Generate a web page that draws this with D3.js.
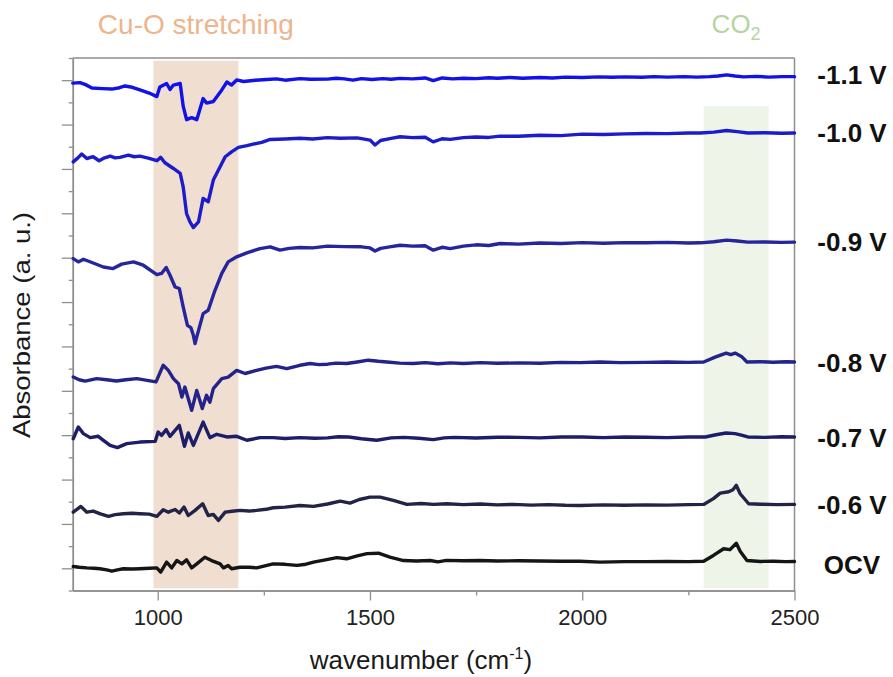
<!DOCTYPE html>
<html>
<head>
<meta charset="utf-8">
<script src="https://cdn.jsdelivr.net/npm/d3@7/dist/d3.min.js"></script>
<style>
  html, body { margin: 0; padding: 0; background: #ffffff; }
  svg { display: block; font-family: "Liberation Sans", Arial, sans-serif; }
</style>
</head>
<body>
<svg id="chart" width="893" height="677"></svg>
<script>
// ---------------- data ----------------
const seriesNames = ["-1.1 V", "-1.0 V", "-0.9 V", "-0.8 V", "-0.7 V", "-0.6 V", "OCV"];
const seriesColors = ["#1212e8", "#1c1cc8", "#26269c", "#23238a", "#1e1e68", "#232348", "#151515"];

const xMajorTicks = [1000, 1500, 2000, 2500];
const xMinorTicks = [1250, 1750, 2250];
const yMajorTicks = [1, 3, 5, 7, 9, 11, 13, 15, 17, 19, 21, 23];
const yMinorTicks = [0, 2, 4, 6, 8, 10, 12, 14, 16, 18, 20, 22, 24];

const bandCuO = [990, 1190];
const bandCO2 = [2286, 2439];
const bandCuOTop = 23.88;
const bandCO2Top = 21.83;
const bandBottom = 0.1;

// absorbance (stacked, a.u.) vs wavenumber (cm-1)
const m11 = [[800,22.87],[817,22.89],[830,22.80],[845,22.65],[870,22.62],[892,22.60],[910,22.66],[923,22.74],[940,22.68],[958,22.56],[980,22.42],[998,22.26],[1005,22.69],[1021,22.85],[1029,22.58],[1037,22.78],[1053,22.85],[1060,21.83],[1068,21.22],[1080,21.31],[1092,21.22],[1107,22.17],[1115,21.97],[1131,22.04],[1151,22.56],[1163,22.92],[1174,22.78],[1186,23.01],[1202,22.94],[1230,23.00],[1257,23.03],[1280,23.06],[1300,23.00],[1335,23.07],[1360,23.04],[1400,23.05],[1420,23.09],[1440,23.06],[1460,23.00],[1480,23.07],[1505,23.03],[1530,23.07],[1550,23.04],[1571,23.08],[1600,23.06],[1630,23.10],[1649,22.98],[1670,23.10],[1695,23.06],[1720,23.09],[1750,23.07],[1780,23.11],[1800,23.09],[1830,23.12],[1860,23.09],[1900,23.12],[1930,23.10],[1960,23.14],[2000,23.12],[2040,23.15],[2070,23.13],[2100,23.15],[2140,23.13],[2170,23.16],[2200,23.14],[2240,23.16],[2270,23.14],[2300,23.16],[2320,23.19],[2340,23.24],[2360,23.19],[2380,23.15],[2410,23.17],[2440,23.14],[2470,23.16],[2500,23.16]];
const m10 = [[801,19.32],[812,19.50],[821,19.67],[833,19.47],[848,19.55],[862,19.37],[875,19.50],[888,19.58],[900,19.50],[911,19.52],[931,19.62],[945,19.55],[958,19.58],[980,19.48],[998,19.37],[1007,19.52],[1017,19.28],[1037,19.02],[1053,18.80],[1060,18.19],[1068,16.99],[1076,16.61],[1084,16.36],[1096,16.61],[1107,17.67],[1119,17.52],[1131,18.50],[1147,19.10],[1159,19.55],[1174,19.77],[1190,19.97],[1210,20.05],[1225,20.12],[1245,20.20],[1265,20.33],[1300,20.35],[1335,20.38],[1365,20.35],[1400,20.41],[1430,20.38],[1470,20.40],[1500,20.30],[1512,20.08],[1525,20.28],[1550,20.38],[1571,20.45],[1600,20.41],[1630,20.43],[1649,20.22],[1670,20.36],[1689,20.33],[1720,20.41],[1750,20.44],[1780,20.42],[1807,20.48],[1850,20.47],[1900,20.52],[1950,20.50],[2000,20.57],[2050,20.55],[2100,20.58],[2150,20.60],[2200,20.59],[2250,20.62],[2278,20.62],[2310,20.66],[2340,20.73],[2365,20.68],[2390,20.62],[2430,20.63],[2470,20.61],[2500,20.62]];
const m09 = [[801,14.96],[813,14.81],[825,14.93],[848,14.76],[872,14.58],[895,14.51],[915,14.71],[943,14.81],[966,14.66],[998,14.24],[1009,14.29],[1020,14.56],[1029,14.21],[1041,13.68],[1051,13.61],[1060,12.78],[1070,11.95],[1078,11.85],[1084,11.50],[1088,11.13],[1092,11.43],[1107,12.48],[1119,12.63],[1135,13.53],[1151,14.29],[1166,14.81],[1186,15.04],[1210,15.22],[1241,15.41],[1265,15.49],[1288,15.34],[1310,15.42],[1335,15.46],[1365,15.44],[1400,15.52],[1440,15.50],[1480,15.49],[1500,15.44],[1512,15.30],[1525,15.42],[1550,15.50],[1571,15.56],[1600,15.52],[1630,15.54],[1649,15.34],[1670,15.47],[1689,15.41],[1720,15.52],[1750,15.58],[1780,15.55],[1807,15.64],[1850,15.61],[1900,15.66],[1950,15.64],[2000,15.68],[2050,15.65],[2100,15.68],[2150,15.67],[2200,15.69],[2250,15.66],[2278,15.67],[2310,15.72],[2340,15.79],[2365,15.75],[2390,15.70],[2430,15.71],[2470,15.69],[2500,15.70]];
const m08 = [[801,9.62],[815,9.50],[829,9.44],[856,9.55],[880,9.50],[903,9.44],[925,9.50],[951,9.55],[975,9.47],[996,9.40],[1013,10.15],[1025,9.92],[1037,9.55],[1049,9.32],[1057,8.72],[1064,9.17],[1080,8.12],[1092,9.02],[1105,8.20],[1115,8.80],[1123,8.49],[1131,9.10],[1151,9.55],[1166,9.62],[1186,9.92],[1206,9.78],[1233,9.92],[1255,10.02],[1280,10.10],[1304,10.00],[1335,10.15],[1359,10.23],[1380,10.18],[1400,10.20],[1420,10.25],[1445,10.23],[1470,10.30],[1496,10.38],[1520,10.33],[1540,10.30],[1570,10.25],[1602,10.23],[1630,10.27],[1660,10.22],[1690,10.26],[1720,10.23],[1760,10.27],[1800,10.24],[1850,10.26],[1900,10.24],[1950,10.28],[1995,10.27],[2042,10.30],[2090,10.27],[2150,10.28],[2200,10.30],[2250,10.28],[2286,10.30],[2313,10.52],[2339,10.70],[2350,10.63],[2360,10.70],[2375,10.55],[2388,10.30],[2420,10.31],[2450,10.29],[2480,10.31],[2500,10.30]];
const m07 = [[801,6.84],[813,7.37],[825,7.07],[841,6.89],[860,6.95],[872,6.77],[888,6.54],[905,6.44],[927,6.62],[958,6.69],[994,6.72],[1001,7.14],[1009,6.99],[1020,7.25],[1029,6.95],[1051,7.44],[1063,6.50],[1072,7.10],[1084,6.54],[1107,7.59],[1123,6.89],[1139,7.04],[1163,6.92],[1186,6.95],[1210,6.77],[1241,6.89],[1272,6.89],[1300,6.85],[1335,6.89],[1370,6.86],[1400,6.88],[1425,6.93],[1450,6.92],[1480,6.84],[1516,6.77],[1550,6.88],[1580,6.90],[1615,6.86],[1649,6.80],[1675,6.88],[1700,6.90],[1750,6.87],[1800,6.91],[1850,6.90],[1900,6.88],[1950,6.92],[2000,6.92],[2050,6.89],[2100,6.92],[2150,6.91],[2200,6.89],[2250,6.92],[2290,6.92],[2315,7.02],[2339,7.10],[2360,7.07],[2375,7.00],[2390,6.92],[2430,6.90],[2470,6.93],[2500,6.92]];
const m06 = [[801,3.53],[819,3.79],[833,3.53],[848,3.58],[865,3.45],[884,3.34],[900,3.42],[919,3.46],[940,3.48],[958,3.46],[980,3.44],[998,3.34],[1013,3.64],[1025,3.53],[1041,3.65],[1051,3.49],[1062,3.76],[1072,3.38],[1088,3.61],[1106,3.91],[1119,3.38],[1131,3.43],[1143,3.16],[1159,3.53],[1175,3.57],[1194,3.61],[1215,3.58],[1233,3.61],[1255,3.66],[1272,3.73],[1300,3.76],[1335,3.83],[1367,3.79],[1400,3.90],[1430,4.03],[1453,3.94],[1475,4.10],[1500,4.21],[1524,4.21],[1555,4.06],[1587,3.88],[1620,3.92],[1650,3.88],[1681,3.91],[1720,3.87],[1760,3.90],[1800,3.86],[1838,3.88],[1880,3.85],[1920,3.87],[1960,3.84],[1995,3.83],[2050,3.86],[2100,3.84],[2150,3.86],[2200,3.85],[2250,3.87],[2286,3.88],[2309,4.14],[2325,4.39],[2345,4.45],[2355,4.54],[2363,4.74],[2372,4.36],[2392,3.91],[2420,3.89],[2460,3.87],[2500,3.88]];
const ocv = [[801,1.08],[815,1.05],[833,1.02],[850,1.00],[864,0.98],[880,0.93],[892,0.87],[905,0.93],[919,0.98],[940,0.97],[958,0.98],[980,1.00],[998,1.02],[1007,0.83],[1021,1.28],[1033,1.02],[1045,1.35],[1057,1.20],[1068,1.38],[1080,1.02],[1092,1.20],[1111,1.50],[1127,1.35],[1147,1.20],[1155,1.02],[1166,1.13],[1174,0.98],[1194,1.05],[1215,1.05],[1233,1.02],[1255,1.12],[1272,1.20],[1300,1.18],[1328,1.13],[1345,1.17],[1367,1.28],[1395,1.38],[1422,1.48],[1445,1.43],[1470,1.56],[1493,1.66],[1520,1.68],[1547,1.50],[1579,1.35],[1610,1.33],[1642,1.35],[1660,1.29],[1680,1.36],[1720,1.34],[1759,1.35],[1800,1.33],[1850,1.34],[1900,1.33],[1950,1.32],[1995,1.32],[2042,1.28],[2100,1.30],[2150,1.30],[2200,1.31],[2250,1.30],[2286,1.32],[2309,1.58],[2333,1.88],[2348,1.84],[2363,2.13],[2372,1.77],[2388,1.35],[2420,1.31],[2450,1.32],[2480,1.30],[2500,1.31]];
const allSeries = [m11, m10, m09, m08, m07, m06, ocv];

// ---------------- layout ----------------
const svg = d3.select("#chart");
const plotLeft = 72.8, plotRight = 794.5, plotTop = 58, plotBottom = 590.5;
const x = d3.scaleLinear().domain([800, 2500]).range([plotLeft, plotRight]);
const y = d3.scaleLinear().domain([0, 24]).range([plotBottom, plotTop]);
const frameColor = "#8e8e8e";
const labelDy = [7, 9, 9, 10, 10, 9.5, 13];

// bands
svg.append("rect")
  .attr("x", x(bandCuO[0])).attr("width", x(bandCuO[1]) - x(bandCuO[0]))
  .attr("y", y(bandCuOTop)).attr("height", y(bandBottom) - y(bandCuOTop))
  .attr("fill", "#f0ded0");
svg.append("rect")
  .attr("x", x(bandCO2[0])).attr("width", x(bandCO2[1]) - x(bandCO2[0]))
  .attr("y", y(bandCO2Top)).attr("height", y(bandBottom) - y(bandCO2Top))
  .attr("fill", "#eef4e8");

// frame (top and right)
svg.append("line").attr("x1", plotLeft).attr("x2", plotRight).attr("y1", plotTop).attr("y2", plotTop)
  .attr("stroke", frameColor).attr("stroke-width", 1.5);
svg.append("line").attr("x1", plotRight).attr("x2", plotRight).attr("y1", plotTop).attr("y2", plotBottom)
  .attr("stroke", frameColor).attr("stroke-width", 1.5);

// axes
function styleAxis(g) {
  g.select(".domain").attr("stroke", frameColor).attr("stroke-width", 1.5);
  g.selectAll(".tick line").attr("stroke", frameColor).attr("stroke-width", 1.3);
}
const xMajor = svg.append("g").attr("transform", `translate(0,${plotBottom})`)
  .call(d3.axisBottom(x).tickValues(xMajorTicks).tickSize(10).tickSizeOuter(0).tickPadding(9).tickFormat(d3.format("d")));
styleAxis(xMajor);
xMajor.selectAll("text").attr("font-size", 22).attr("fill", "#222").attr("font-family", "Liberation Sans, Arial, sans-serif");
const xMinor = svg.append("g").attr("transform", `translate(0,${plotBottom})`)
  .call(d3.axisBottom(x).tickValues(xMinorTicks).tickSize(5).tickSizeOuter(0).tickFormat(""));
styleAxis(xMinor);

const yMajor = svg.append("g").attr("transform", `translate(${plotLeft},0)`)
  .call(d3.axisLeft(y).tickValues(yMajorTicks).tickSize(11).tickSizeOuter(0).tickFormat(""));
styleAxis(yMajor);
const yMinor = svg.append("g").attr("transform", `translate(${plotLeft},0)`)
  .call(d3.axisLeft(y).tickValues(yMinorTicks).tickSize(4).tickSizeOuter(0).tickFormat(""));
styleAxis(yMinor);

// spectra
const line = d3.line().x(d => x(d[0])).y(d => y(d[1])).curve(d3.curveLinear);
svg.append("g").selectAll("path").data(allSeries).join("path")
  .attr("d", line)
  .attr("fill", "none")
  .attr("stroke", (d, i) => seriesColors[i])
  .attr("stroke-width", 3.4)
  .attr("stroke-linejoin", "round")
  .attr("stroke-linecap", "round");

// series labels
svg.append("g").selectAll("text").data(allSeries).join("text")
  .attr("x", 852)
  .attr("y", (d, i) => y(d[d.length - 1][1]) + labelDy[i])
  .attr("text-anchor", "middle")
  .attr("font-size", 26)
  .attr("font-weight", "bold")
  .attr("fill", "#111")
  .text((d, i) => seriesNames[i]);

// band labels
svg.append("text")
  .attr("x", x((bandCuO[0] + bandCuO[1]) / 2)).attr("y", 34)
  .attr("text-anchor", "middle").attr("font-size", 28).attr("fill", "#edb58c")
  .text("Cu-O stretching");
const co2 = svg.append("text")
  .attr("x", x((bandCO2[0] + bandCO2[1]) / 2)).attr("y", 33)
  .attr("text-anchor", "middle").attr("font-size", 26).attr("fill", "#b5d4a0");
co2.append("tspan").text("CO");
co2.append("tspan").attr("font-size", 18).attr("dy", 7).text("2");

// axis titles
const xt = svg.append("text")
  .attr("x", 421).attr("y", 669)
  .attr("text-anchor", "middle").attr("font-size", 26).attr("fill", "#1a1a1a");
xt.append("tspan").text("wavenumber (cm");
xt.append("tspan").attr("font-size", 16).attr("dy", -10).text("-1");
xt.append("tspan").attr("dy", 10).text(")");

svg.append("text")
  .attr("transform", "translate(30,325) rotate(-90)")
  .attr("text-anchor", "middle").attr("font-size", 24).attr("fill", "#1a1a1a")
  .attr("textLength", 226).attr("lengthAdjust", "spacingAndGlyphs")
  .text("Absorbance (a. u.)");
</script>
</body>
</html>
